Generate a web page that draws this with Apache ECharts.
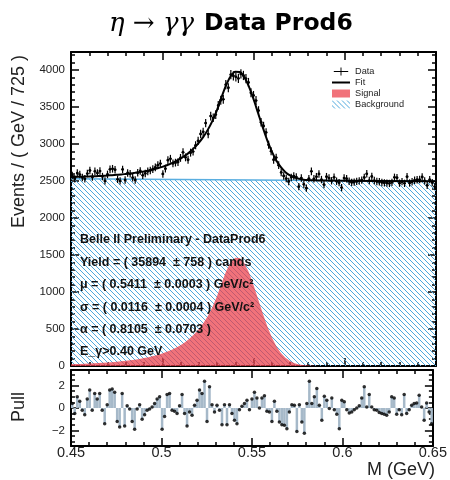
<!DOCTYPE html>
<html>
<head>
<meta charset="utf-8">
<script src="https://cdn.jsdelivr.net/npm/echarts@6/dist/echarts.min.js"></script>
<style>
  html, body { margin: 0; background: #fff; }
  #chart { width: 450px; height: 480px; }
</style>
</head>
<body>
<div id="chart"></div>
<script>
// histogram binning: 145 bins between 0.45 and 0.65 GeV
const massMin = 0.45
const massMax = 0.65
const nBins = 145

// event counts per bin
const dataCounts = [
  2574, 2530, 2606, 2587, 2548, 2529, 2600, 2642, 2553, 2630,
  2607, 2634, 2560, 2501, 2589, 2657, 2665, 2652, 2523, 2501,
  2656, 2513, 2608, 2597, 2545, 2514, 2611, 2636, 2576, 2602,
  2630, 2642, 2660, 2685, 2714, 2735, 2595, 2667, 2781, 2800,
  2737, 2748, 2756, 2812, 2887, 2819, 2787, 2883, 2898, 2982,
  3043, 3135, 3164, 3282, 3134, 3377, 3354, 3397, 3521, 3591,
  3603, 3802, 3760, 3937, 3921, 3907, 3886, 3947, 3926, 3884,
  3831, 3691, 3656, 3587, 3452, 3294, 3243, 3156, 2989, 2903,
  2787, 2816, 2714, 2616, 2568, 2533, 2494, 2549, 2566, 2553,
  2424, 2539, 2455, 2402, 2532, 2630, 2529, 2558, 2595, 2519,
  2451, 2558, 2540, 2503, 2550, 2497, 2477, 2411, 2539, 2531,
  2496, 2481, 2485, 2495, 2502, 2512, 2547, 2597, 2506, 2561,
  2506, 2493, 2490, 2480, 2475, 2472, 2467, 2482, 2549, 2544,
  2471, 2491, 2468, 2558, 2473, 2490, 2510, 2517, 2519, 2554,
  2501, 2441, 2518, 2478, 2425
]

// pull per bin
const pullValues = [
  0.4, -0.5, 1.0, 0.6, -0.2, -0.6, 0.8, 1.6, -0.2, 1.3,
  0.8, 1.3, -0.2, -1.4, 0.3, 1.6, 1.7, 1.4, -1.2, -1.7,
  1.3, -1.6, 0.2, -0.1, -1.2, -1.9, -0.1, 0.3, -1.0, -0.6,
  -0.2, -0.1, 0.1, 0.4, 0.8, 1.0, -1.9, -0.75, 1.2, 1.3,
  -0.2, -0.3, -0.5, 0.2, 1.2, -0.5, -1.6, -0.35, -0.65, 0.25,
  0.7, 1.6, 1.3, 2.4, -1.2, 1.9, 0.3, -0.35, 0.25, -0.2,
  -1.5, 0.3, -1.5, 0.3, -0.5, -1.1, -1.4, -0.15, 0.15, 0.4,
  0.7, -0.15, 0.8, 1.4, 0.9, 0, 0.9, 1.1, -0.3, -0.35,
  -1.2, 0.6, -0.3, -1.25, -1.5, -1.55, -1.85, -0.35, 0.3, 0.25,
  -2.1, 0.3, -1.25, -2.25, 0.4, 2.4, 0.4, 1.0, 1.75, 0.25,
  -1.1, 1.05, 0.7, -0.05, 0.9, -0.15, -0.55, -1.85, 0.7, 0.55,
  -0.15, -0.45, -0.35, -0.15, 0, 0.2, 0.9, 1.9, 0.1, 1.2,
  0.1, -0.15, -0.2, -0.4, -0.5, -0.55, -0.65, -0.35, 1.0, 0.9,
  -0.55, -0.15, -0.6, 1.2, -0.5, -0.15, 0.25, 0.4, 0.45, 1.15,
  0.1, -1.1, 0.45, -0.35, -1.4
]

// fit curves sampled along the mass axis
const curveMass = [
  0.45, 0.4525, 0.455, 0.4575, 0.46, 0.4625, 0.465, 0.4675, 0.47, 0.4725,
  0.475, 0.4775, 0.48, 0.4825, 0.485, 0.4875, 0.49, 0.4925, 0.495, 0.4975,
  0.5, 0.5025, 0.505, 0.5075, 0.51, 0.5125, 0.515, 0.5175, 0.52, 0.5225,
  0.525, 0.5275, 0.53, 0.5325, 0.535, 0.5375, 0.54, 0.5425, 0.545, 0.5475,
  0.55, 0.5525, 0.555, 0.5575, 0.56, 0.5625, 0.565, 0.5675, 0.57, 0.5725,
  0.575, 0.5775, 0.58, 0.5825, 0.585, 0.5875, 0.59, 0.65
]
const signalCurve = [
  23.5, 25.5, 27.8, 30.2, 33.0, 36.0, 39.4, 43.1, 47.3, 52.0,
  57.3, 63.2, 69.9, 77.4, 86.0, 95.6, 106.7, 119.2, 133.7, 150.2,
  169.4, 191.3, 217.0, 246.7, 281.7, 322.5, 371.0, 428.4, 496.4, 578.3,
  676.6, 796.2, 941, 1117, 1280, 1401, 1463, 1459, 1389, 1262,
  1095, 907, 717, 541, 390, 268, 176, 110, 66, 37.7,
  20.6, 10.7, 5.3, 2.5, 1.1, 0.5, 0, 0
]
const fitCurve = [
  2554, 2555, 2557, 2559, 2561, 2564, 2567, 2570, 2574, 2578,
  2583, 2588, 2595, 2602, 2610, 2619, 2630, 2642, 2656, 2672,
  2691, 2712, 2737, 2767, 2801, 2842, 2890, 2947, 3014, 3096,
  3194, 3313, 3457, 3633, 3795, 3916, 3977, 3973, 3902, 3775,
  3608, 3419, 3229, 3052, 2901, 2778, 2686, 2619, 2575, 2546,
  2529, 2518, 2513, 2509, 2508, 2506, 2505, 2495
]
const bkgMass = [0.45, 0.65]
const bkgCurve = [2530, 2495]

const pullTicks = [-2, 0, 2]
const pullMinorTicks = [-3, -2.5, -1.5, -1, -0.5, 0.5, 1, 1.5, 2.5, 3]

const infoLines = [
  'Belle II Preliminary - DataProd6',
  'Yield = ( 35894  ± 758 ) cands',
  'μ = ( 0.5411  ± 0.0003 ) GeV/c²',
  'σ = ( 0.0116  ± 0.0004 ) GeV/c²',
  'α = ( 0.8105  ± 0.0703 )',
  'E_γ>0.40 GeV'
]

const binWidth = (massMax - massMin) / nBins
const binCenter = i => massMin + (i + 0.5) * binWidth

const sans = "'Liberation Sans', Arial, Helvetica, sans-serif"
const signalColor = 'rgba(235, 60, 70, 0.72)'
const bkgLineColor = '#5aaee0'
const pullColor = '#a6b9c9'

function makeHatch(color, size, width) {
  const c = document.createElement('canvas')
  c.width = size
  c.height = size
  const ctx = c.getContext('2d')
  ctx.strokeStyle = color
  ctx.lineWidth = width
  ctx.beginPath()
  ctx.moveTo(-1, -1); ctx.lineTo(size + 1, size + 1)
  ctx.moveTo(-1, size - 1); ctx.lineTo(1, size + 1)
  ctx.moveTo(size - 1, -1); ctx.lineTo(size + 1, 1)
  ctx.stroke()
  return { image: c, repeat: 'repeat' }
}
const hatch = makeHatch('#4ea8dc', 5, 1)

const chart = echarts.init(document.getElementById('chart'))

function renderData(params, api) {
  const x = api.value(0), y = api.value(1), e = api.value(2)
  const c = api.coord([x, y])
  const top = api.coord([x, y + e])
  const bot = api.coord([x, y - e])
  const l = api.coord([x - binWidth / 2, y])
  const r = api.coord([x + binWidth / 2, y])
  const st = { stroke: '#000', lineWidth: 1.2 }
  return {
    type: 'group',
    children: [
      { type: 'line', shape: { x1: c[0], y1: top[1], x2: c[0], y2: bot[1] }, style: st },
      { type: 'line', shape: { x1: l[0], y1: c[1], x2: r[0], y2: c[1] }, style: st },
      { type: 'circle', shape: { cx: c[0], cy: c[1], r: 1.4 }, style: { fill: '#000' } }
    ]
  }
}

function renderPull(params, api) {
  const x = api.value(0), p = api.value(1)
  const a = api.coord([x - binWidth / 2, 0])
  const b = api.coord([x + binWidth / 2, p])
  return {
    type: 'rect',
    shape: { x: a[0], y: Math.min(a[1], b[1]), width: b[0] - a[0], height: Math.abs(b[1] - a[1]) },
    style: { fill: pullColor }
  }
}

const frameLine = { show: true, onZero: false, lineStyle: { color: '#000', width: 2 } }

function massAxis(gridIndex, position, labels) {
  return {
    type: 'value', gridIndex, position, min: massMin, max: massMax, interval: 0.05,
    axisLine: frameLine,
    axisTick: { inside: true, length: 8, lineStyle: { color: '#000', width: 1.5 } },
    minorTick: { show: true, splitNumber: 5, length: 4, lineStyle: { color: '#000', width: 1.5 } },
    axisLabel: { show: labels, fontSize: 14.5, color: '#222', fontFamily: sans, margin: -1 },
    splitLine: { show: false }
  }
}

function countAxis(position, labels) {
  return {
    type: 'value', gridIndex: 0, position, min: 0, max: 4243, interval: 500,
    axisLine: frameLine,
    axisTick: { inside: true, length: 8, lineStyle: { color: '#000', width: 1.5 } },
    minorTick: { show: true, splitNumber: 5, length: 4, lineStyle: { color: '#000', width: 1.5 } },
    axisLabel: {
      show: labels, fontSize: 11.5, color: '#222', fontFamily: sans, margin: 6, showMaxLabel: false,
      formatter: v => String(v)
    },
    splitLine: { show: false }
  }
}

function pullAxis(position, major, labels) {
  return {
    type: 'value', gridIndex: 1, position, min: -3.4, max: 3.4,
    axisLine: major ? frameLine : { show: false },
    axisTick: {
      inside: true, length: major ? 8 : 4,
      customValues: major ? pullTicks : pullMinorTicks,
      lineStyle: { color: '#000', width: 1.5 }
    },
    axisLabel: {
      show: labels, customValues: pullTicks, fontSize: 11.5, color: '#222', fontFamily: sans, margin: 6,
      formatter: v => String(v).replace('-', '\u2212')
    },
    splitLine: { show: false }
  }
}

const option = {
  animation: false,
  title: {
    text: '{g|η → γγ}{b|Data Prod6}',
    left: 104, top: 6,
    textStyle: {
      rich: {
        g: { fontFamily: "'DejaVu Serif', serif", fontStyle: 'italic', fontWeight: 'normal', fontSize: 26, color: '#000' },
        b: { fontFamily: "'DejaVu Sans', sans-serif", fontWeight: 'bold', fontSize: 23.5, color: '#000', padding: [0, 0, 0, 10] }
      }
    }
  },
  legend: {
    left: 327, top: 62, orient: 'vertical', selectedMode: false,
    itemWidth: 18, itemHeight: 8, itemGap: 2,
    textStyle: { fontSize: 9.2, color: '#222', fontFamily: sans },
    data: [
      { name: 'Data', icon: 'path://M0,4.4H18V5.6H0Z M8.4,0H9.6V10H8.4Z', itemStyle: { color: '#000' } },
      { name: 'Fit', icon: 'path://M0,4H18V6H0Z', itemStyle: { color: '#000' } },
      { name: 'Signal', icon: 'rect', itemStyle: { color: signalColor } },
      { name: 'Background', icon: 'rect', itemStyle: { color: hatch } }
    ]
  },
  grid: [
    { left: 71, top: 52, width: 365, height: 314 },
    { left: 71, top: 370, width: 365, height: 76 }
  ],
  xAxis: [
    massAxis(0, 'bottom', false),
    massAxis(0, 'top', false),
    massAxis(1, 'bottom', true),
    massAxis(1, 'top', false)
  ],
  yAxis: [
    countAxis('left', true),
    countAxis('right', false),
    pullAxis('left', true, true),
    pullAxis('left', false, false),
    pullAxis('right', true, false),
    pullAxis('right', false, false)
  ],
  graphic: [
    {
      type: 'text', x: 19, y: 55, rotation: Math.PI / 2,
      style: { text: 'Events / ( GeV / 725 )', fontSize: 18, fontFamily: sans, fill: '#222', align: 'right', verticalAlign: 'middle' }
    },
    {
      type: 'text', x: 19, y: 407, rotation: Math.PI / 2,
      style: { text: 'Pull', fontSize: 18, fontFamily: sans, fill: '#222', align: 'center', verticalAlign: 'middle' }
    },
    {
      type: 'text', x: 435, y: 470,
      style: { text: 'M (GeV)', fontSize: 18, fontFamily: sans, fill: '#222', align: 'right', verticalAlign: 'middle' }
    }
  ].concat(infoLines.map((t, i) => ({
    type: 'text', x: 80, y: 240 + i * 22.35, z: 10,
    style: { text: t, fontSize: 12.5, fontWeight: 'bold', fontFamily: sans, fill: '#111', verticalAlign: 'middle' }
  }))),
  series: [
    {
      name: 'Background', type: 'line', xAxisIndex: 0, yAxisIndex: 0, z: 1,
      data: bkgMass.map((m, i) => [m, bkgCurve[i]]),
      showSymbol: false, lineStyle: { color: bkgLineColor, width: 1.5 },
      itemStyle: { color: bkgLineColor },
      areaStyle: { color: hatch, opacity: 1 }
    },
    {
      name: 'Signal', type: 'line', xAxisIndex: 0, yAxisIndex: 0, z: 2,
      data: curveMass.map((m, i) => [m, signalCurve[i]]),
      showSymbol: false, lineStyle: { width: 0 },
      itemStyle: { color: signalColor },
      areaStyle: { color: signalColor, opacity: 1 }
    },
    {
      name: 'Fit', type: 'line', xAxisIndex: 0, yAxisIndex: 0, z: 3,
      data: curveMass.map((m, i) => [m, fitCurve[i]]),
      showSymbol: false, smooth: 0.3, lineStyle: { color: '#000', width: 2 },
      itemStyle: { color: '#000' }
    },
    {
      name: 'Data', type: 'custom', xAxisIndex: 0, yAxisIndex: 0, z: 4,
      renderItem: renderData, encode: { x: 0, y: 1 },
      itemStyle: { color: '#000' },
      data: dataCounts.map((n, i) => [binCenter(i), n, Math.sqrt(n)])
    },
    {
      name: 'PullBars', type: 'custom', xAxisIndex: 2, yAxisIndex: 2, z: 2,
      renderItem: renderPull, encode: { x: 0, y: 1 },
      data: pullValues.map((p, i) => [binCenter(i), p])
    },
    {
      name: 'PullPoints', type: 'scatter', xAxisIndex: 2, yAxisIndex: 2, z: 3,
      symbolSize: 3.5, itemStyle: { color: '#000' },
      data: pullValues.map((p, i) => [binCenter(i), p])
    }
  ]
}

chart.setOption(option)
</script>
</body>
</html>
